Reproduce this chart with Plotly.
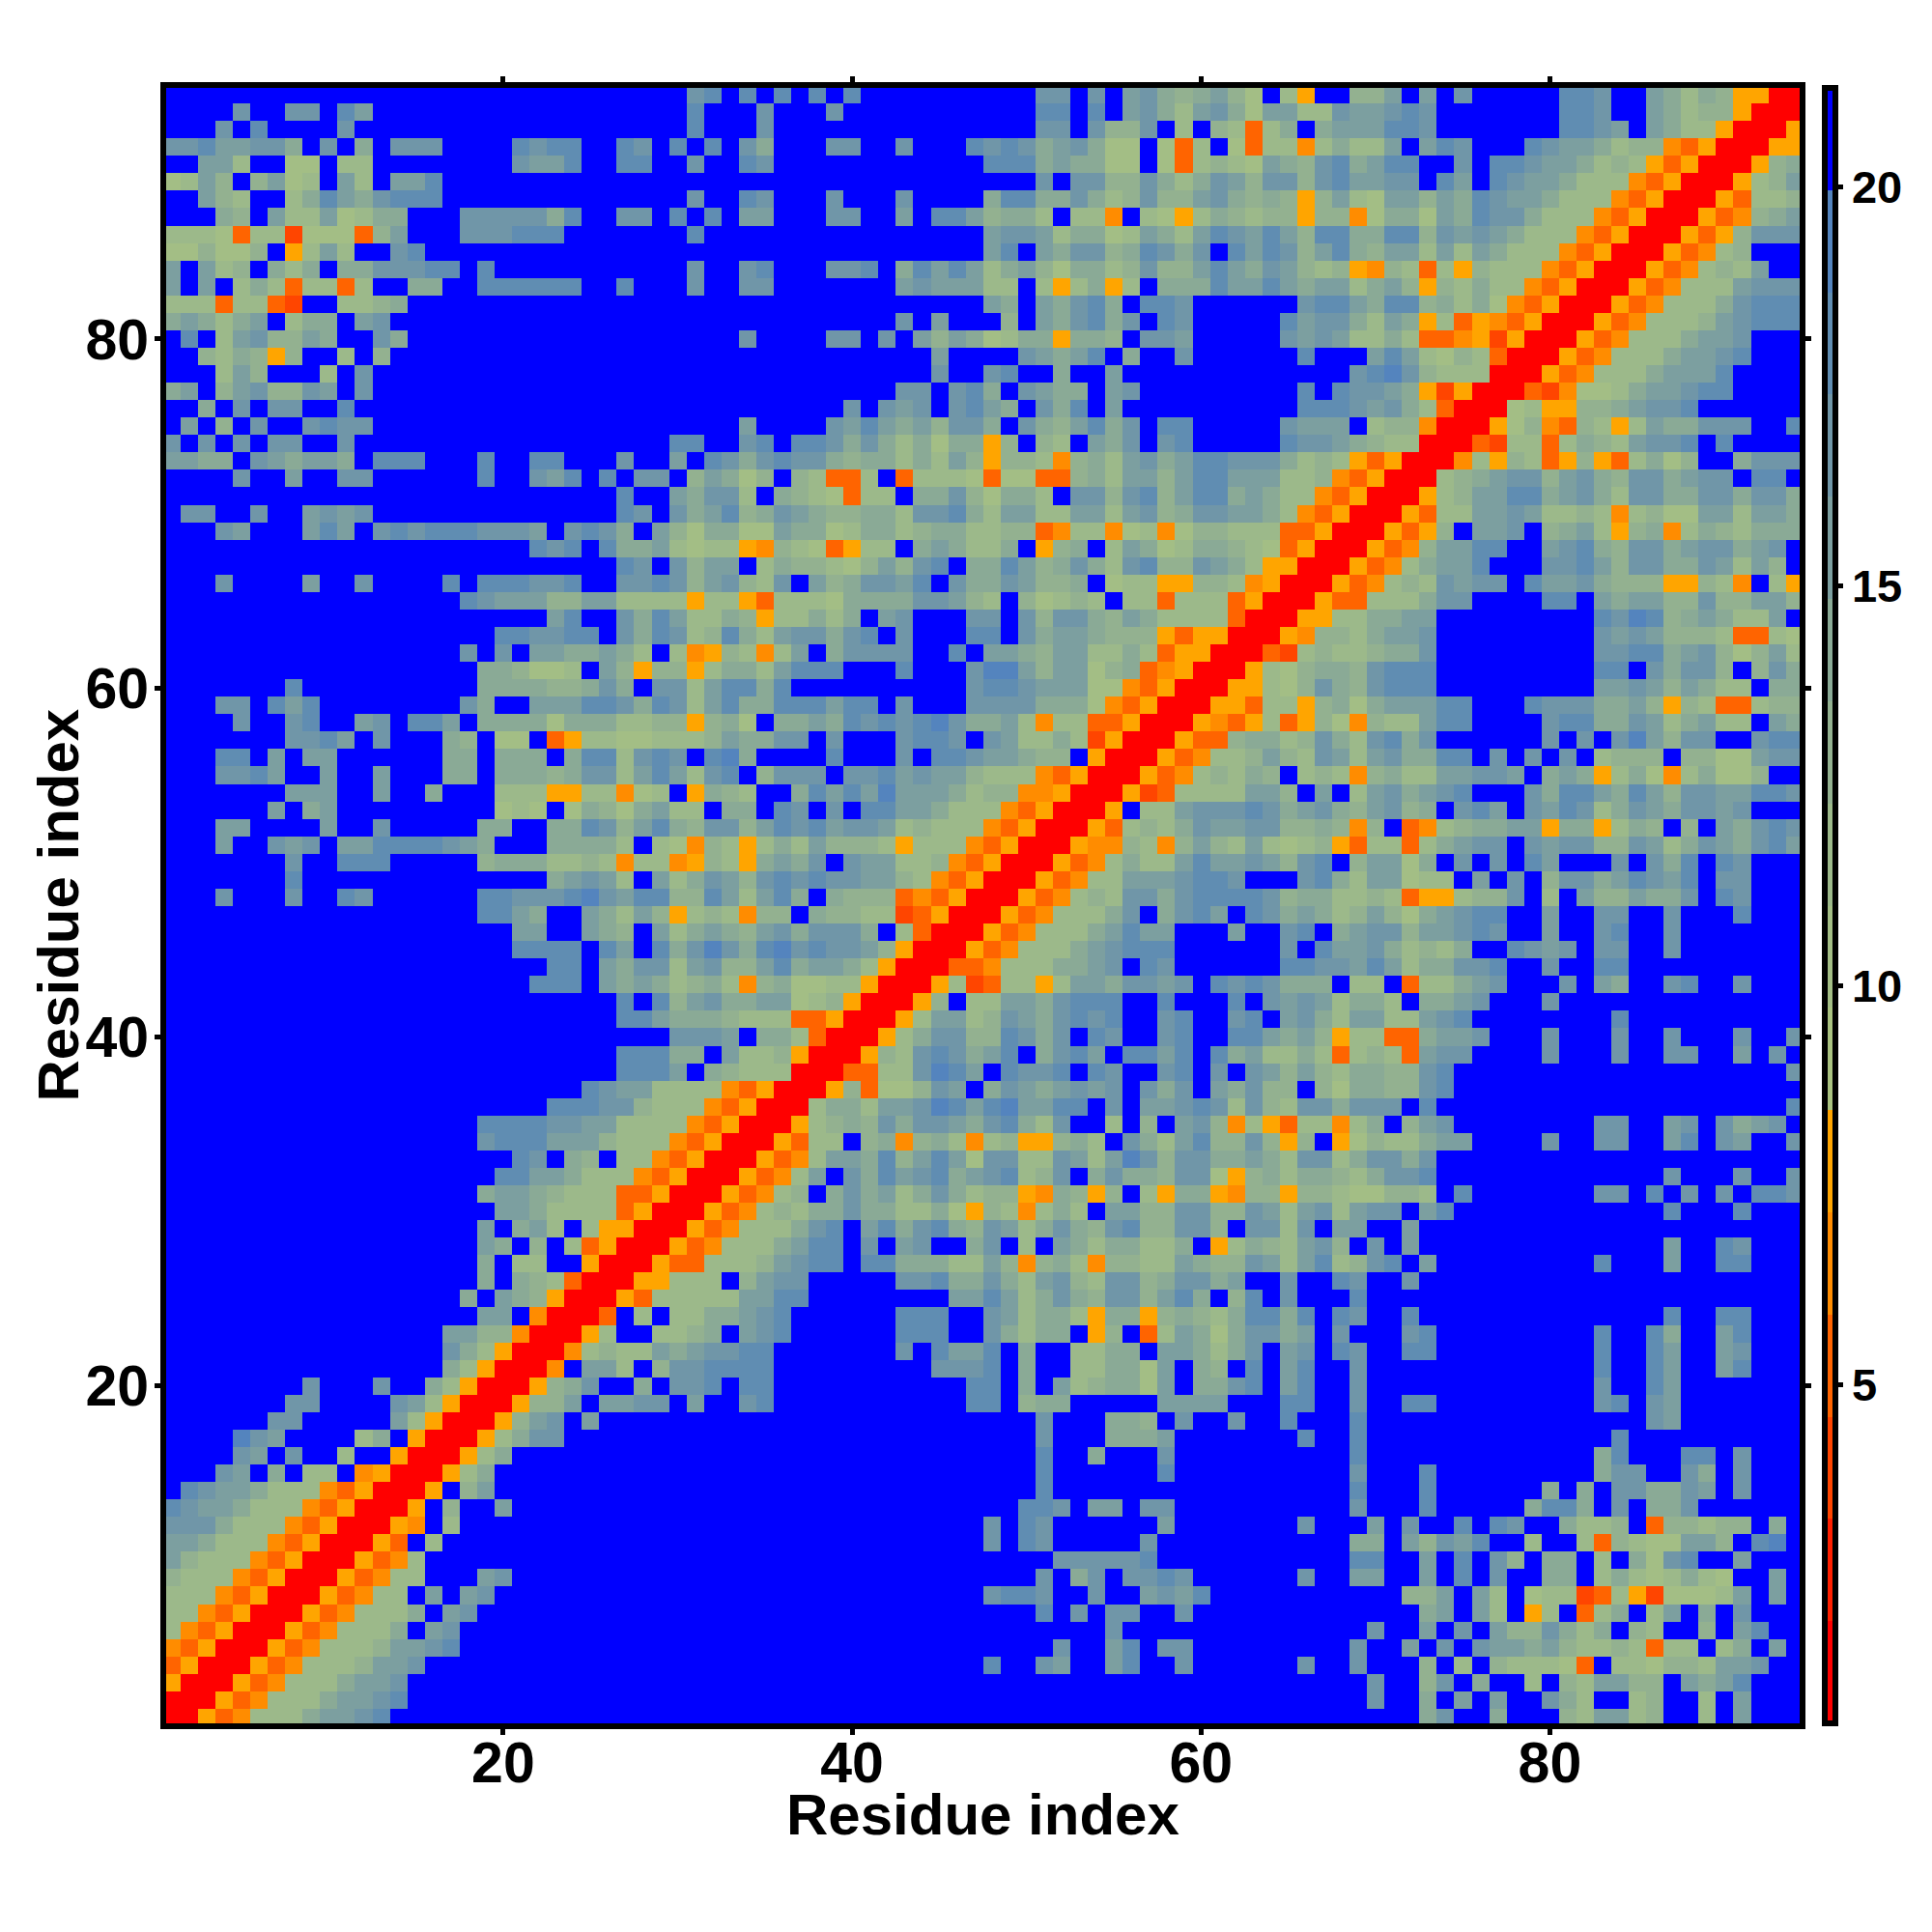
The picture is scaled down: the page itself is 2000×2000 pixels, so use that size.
import re
import plotly.graph_objects as go

# Each row (top = residue 94, bottom = residue 1) is three text chunks: columns 1-32, 33-63, 64-94.
# Letters/digits are colour-band codes; _n_ is a run of n blue cells.
rows = [
("_30_78",".8.8.8.8_10_77.7.67545642",".3y..446.6.7_5_887..65354yyrr"),
("....7..77.86_18_8.","..7...7_11_88.8.67536752","6633766787_7_887..65344yrrr"),
("...7.8....7_19_8.","..7_15_77.7447.3.43o","35.5666887_7_8876.6533yrrry"),
("77866775.7.5.777....8788..87.8.8",".75...77..7...8787567522.2o3.2o","33p35336.687...87665344poyrrryy"),
("..663..22.33_8_7668..88..7.",".87_12_888565522.2o3432","654785688..7.887665343yoyrrry45"),
("2364.4623.63.668_16_","_18_7.77447535764","774786677.86.87665333poyrrry346"),
("..643..358657888_14_7.",".87...7...7....5885575347446754","54y46326646587665333poyrrryo334"),
("...54.63362355...7777758..77.8.8",".66...77..6.8864553.33p.32y3543","44y44p2552658775333poyrrryop456"),
("3332o33u222o46...777888_7_8.","_15_6776355236536876","864885588476765333poyrrryoy4777"),
("224224.y363..78_17_","_15_68.6577458757.86","87468546636365333poyrrryop34..."),
("6.634.535.5577788.8_11_7.",".78...778.586863564255347446865","76434yp43o3y4333poyrrryop3436.."),
("6.6.353o33o3..55..888888..8...7.",".77.......6766633.3y35y3.555866","865663564y43533poyrrryop3336777"),
("333o33ou..3345_18_","_15_65.65785.887....","..788658845352poyrrryop33357888"),
("565356.355.67._18_","_10_7.6...4.657857.87....",".86775365y3oypoyrrryop333467888"),
(".8.3674465..75_18_",".7....77.7.64652355y554.776....",".76763353oopyuyrrryop3335667..."),
("..4354y4..3.4_19_","_12_6....76568.5..7....","..8...6863243orrryop33356678..."),
("...364...3.7_20_","_12_7..78..5..6_8_",".....78974333rrryop33356668...."),
("56.4674476.7_20_","_10_77.785.7655.67.......","..8.87765yuyrrroup223566788...."),
("..5.7.77..8_21_","_7_7.767.7865.758.6_8_","..88876753orrr23yy4456778......"),
(".6.4.7..7877_20_",".6....7686564775.7546857.88....",".7666.344prrry24po43y3655777..8"),
("7.7.7.77..7_18_88.",".78.88757535255y4.43.657.78....",".87765433rrrou33o35436778.8...."),
("6655.765665.888...8..88...7..6.8","757877545535364y443p45367568877","75343yoyrrrp3y43oy4yo3524..5777"),
("....7..6..77......8..768.8.77.46","524.43oo3.o3332o22oo45366468866","6334poyrrr34567746754775677.88."),
("_26_8..657","73.5432o33.55742553.77478468856","533poyrrry346688567537755775775"),
(".77..7..6767_14_87.756","8457654455377853663366367457766","53poyrrryo3366763343p3422663665"),
("...76...686.7878887776.7875.6425","522655235534553344op33p23p24433","3ooyrrryoy4.667.4563y45p3543555"),
("_21_878.8556323","3yp432oy33.565335.y45.365235543","2oyrrryop46688..67854775677567."),
("_26_87.746","6.35443246478.55864575378447653","yyrrryop35668...77864775576364."),
("...7....6..7....8.888778..778746","7437.6457768.75576445.233yy443p","yrrryop3437677.86675444yy43p.3y"),
("_17_8766644663333y3","3yo3332555577643.42343.33o333oy","rrryoo333577....88.656644744664"),
("_22_68..758633","54y33535.67...77.747754653333or","rryy335566_9_87984565336."),
("_19_887788.758734","853677578.7...88.75665444yoyyrr","ryp4435667_9_76764443oo32"),
("_17_7.7.6655653.3py","43p36.57777..8.6654663353oyyrrr","ou34334557_9_778856742463"),
("_18_554223.64y44y3","5536888...8...7996466245opyrrry","3245547888_9_88.75774.475"),
(".......8_10_555544575.7736","8858_10_788766622poyrrryy","3247547888_9_667646533.55"),
("...77.868_8_75..66688758736","855888688.7...77775552poyrrryyo","33y452566688...87775564y43oo344"),
("....7..78..67.886.555525553344y4","52.556587878975563p33ooyrrrypoy","3oy42p433688....788557635633.65"),
(".......7786.7...54.22.oy33223334","65577.7...7887.763353uyrrryoo45","5347537857......7.7.796477..788"),
("...88.6.66......55.555.5883787.8","95....8...7.88766544.yrrryop334","643763675588.7.7.7.3444.4422677"),
("...7786..6..6...55.5554577368637","8.4777.77867664333poyrrryop3435","4.343p453366776.565y352p35224.."),
(".......666..6..5...333yy33p23.y5","43..5868696665344ppyrrryuo33336","64.6.3675678...7588658647766887"),
("......6.56_9_232.25425633.","55.87.7.88665333poyrrry.3367778","7567546745.786.7687357657767..."),
("...66....6..7.....55..5587468547","746878677634333poyrrryo34357667","74454p4.op345566y55y354.4.65787"),
("...6..767.668888765...55553.32p4","3y35364443y333poyrrrypp43p46436","3234yo33o35677.7677447635765786"),
(".......7..888.....45553343p33py4","3y5657.766334poyrrryop353368667","6478.46625.7.7.86...7.758.87..."),
(".......8_14_56763.6357","647878776643poyrrryop336667887.","..785366233.6.7.477568768.77..."),
("...7...7..87......88777897688448","63685.5444opoyrrryop34377578888","74553343oyy3447.3.6446557.87..."),
("_18_8865..65364y34","3p44.54433uoyrrryop33357.5786.8","75653464256788..6..77..7...8..."),
("_20_66..654.6356","546757775.3orrryop33356866...6.",".78.5677466787..6..78..7_7_"),
("_20_8888.86.8579","7589787764yrrryop333567888.....",".7.866753435..8767.77..7_7_"),
("_22_88.6577367","446856653yrrroop3335567.87.....",".8877686355778..7..88_10_"),
("_21_888.6565345","3p452233yrrry3uo33y36657767.878","7555.33.o33567...7.65..78..7..."),
("_26_8.8467","5566234yrrry4.336657888..8...8.","76763553.5567...7_14_"),
("_26_886555","4333ooyrrry366347657878..78..78",".67536633678_8_8_10_"),
("_29_777","6.553orrry3577448757.87..78..88","6564y33oo5667...7...7..7...7..7"),
("_26_88855.","6334yrrry43787568.5786.8868.856","3353o343o677....7...7..77..6.7."),
("_26_8886.5","4333rrroo337986.8778.87..78.7.7","64643554478_19_7"),
("_24_87663333","poyrrry4o22476.57656767.757.657","44.42554478_20_"),
("_22_888774333p","oyrrr3553667986896688.7.6678737","43775777.8_20_8"),
("_18_888877663333po","yrrry345475776578537..3.4.674p3","yo33p35.467_8_77..67.7567."),
("_18_78886664333poy","rrryo33.45p453p34yy453.75368447","4y4.y2433566....7..77..68.76..7"),
("_20_87.54.33poyr","rryop36658468627733763697477556","5377357757_21_"),
("_19_88665333poyrr","ryop36.7586785678347.57554772y4","5355435778_13_7...7..7"),
("_18_56654333ooyrrr","yop34.57563575344yp54y4.3y55yp4","4y44322443.8_7_77.8.7.7.887"),
("_19_6653333oyrrry","op343557553352y43p353.664477447","63673677.68_12_8...8..."),
("_18_6.563.3yyrrryo","p333578.685785476357547844774.7","737.66..6_22_"),
("_18_65.4.3oyrrryop","3335688.7.67..57.3.65355335.y35","43674.7.6_14_6..87..."),
("_18_5.33..yrrryoo3","3346788.885553364p453p443365447","63683478.6_9_8...6..88..."),
("_18_5.543orrryy333",".4677.....77855753674377457756.",".7..87..7_22_"),
("_17_5.654yrrryo3333","36688_8_668635754774685.48",".7...8_25_"),
("_18_66.prrro.3.335","5678_6_888..763553y55y454358","858.87..8_14_8..88..."),
("_16_6644prrry3..3345",".678_6_888..75355.y4.o365257","756.7...78_9_8..85..68..."),
("_16_753yrrrp34336567","788_7_7.8668.5..3355.665357",".67.87..88_9_8..86..67..."),
("_16_53yrrrp.663.4778","888_9_7778.5..335526.54.8",".68..7_13_8..86..68..."),
("........7...7..53yrrry457..5.778",".88_11_88.5.6345526.5578",".68..7_13_7..86_7_"),
(".......77....763yrrry446.6677.6.",".78_11_88.455.....6666..",".88..7..88_9_78.76_7_"),
("......77.....63yrrry467.6_7_","_18_7...554.7..7.",".8...8_16_76_7_"),
("....976....35.yrrry3577_9_","_18_7...5556.....","..8..8_14_8_10_"),
("....76.7..3..yrrry35_12_","_18_8..5...7.....",".....8_13_58...88.7..."),
("...76.5.33.pyrrry35_13_","_18_8......8.....",".....7...8_9_577..75.7..."),
(".87665333poyrrry.46_13_","_18_8_12_",".....8...8_6_5.5.775576.7..."),
("87665333poyrrry.4..6_12_","_17_887.66.77.....",".....7...8_5_5885.7.557_6_"),
("7775333poyrrryp.3_15_","_15_7.87......6.....","..7...6.7..8.87..5334.o44344.5."),
("665333poyrrryo.3_16_","_15_7.87.....7......",".....55.64768..3..3o4322664.89."),
("64333poyrrryop3_17_","_19_777778_6_",".....88..6.8.74.55.3.5278..6..."),
("4333poyrrryop33...67_12_","_18_7.57.7787....","..7..66..6.8.7..55.35323532..6."),
("333poyrrryop33.6.67_13_","_15_7887..7..6768...","_8_446.63.233uo3yu22236.6."),
("33poyrrryop3335.67_14_","_18_8.7.77..7....","_9_56.63.y3.o35.36.5.7..."),
("3poyrrryop3335.67_15_","_22_7_8_","_6_7..6.7.6447535.43..4.68.."),
("poyrrryop33346678_15_","_19_7..68.77....",".....7..6.7.7665643343o33.35.6."),
("oyrrryop3334667_17_","_15_8..76..68..7....","..7..7...4.3.43332o.332443667.."),
("yrrryop3335667_18_","_31_","_6_7..47.5..3.436644.6568..."),
("rrryop33356678_18_","_31_","_6_7..5.6.6..753..34..3.6..."),
("rryop33356678_19_","_31_","_9_57..5...436634..3.6..."),
]

band_edges = [0.76, 2.04, 3.32, 4.60, 5.88, 7.16, 8.44, 9.72, 11.0, 12.28,
              13.56, 14.84, 16.12, 17.40, 18.68, 19.96, 21.24]
band_codes = ["r", "t", "u", "o", "p", "y", "1", "2", "3", "4", "5", "6", "7", "8", "9", "."]
band_colors = ["#FF0000", "#FF2000", "#FF4500", "#FF6400", "#FF8C00", "#FFA500",
               "#A9C280", "#A3BE85", "#9CB98A", "#93B190", "#8AAA96", "#7C9FA0",
               "#7096A8", "#608DB2", "#5484BE", "#0000FF"]
axis_ticks = [20, 40, 60, 80]
bar_ticks = [5, 10, 15, 20]
axis_title = "Residue index"


def expand(chunk, size):
    text = re.sub(r"_(\d+)_", lambda m: "." * int(m.group(1)), chunk)
    return (text + "." * size)[:size]


code_value = {c: (band_edges[i] + band_edges[i + 1]) / 2 for i, c in enumerate(band_codes)}
z = []
for a, b, c in reversed(rows):
    line = expand(a, 32) + expand(b, 31) + expand(c, 31)
    z.append([code_value[ch] for ch in line])

span = band_edges[-1] - band_edges[0]
scale = []
for i, col in enumerate(band_colors):
    scale.append([(band_edges[i] - band_edges[0]) / span, col])
    scale.append([(band_edges[i + 1] - band_edges[0]) / span, col])

idx = list(range(1, 95))
regular = "Liberation Sans, Arial"
title_font = dict(family=regular, size=60, color="black", weight="bold")

fig = go.Figure(go.Heatmap(
    x=idx, y=idx, z=z, zmin=band_edges[0], zmax=band_edges[-1],
    colorscale=scale, xgap=0, ygap=0, hoverinfo="skip",
    colorbar=dict(
        thickness=11, thicknessmode="pixels", len=1.0, lenmode="fraction",
        x=1.0152, xanchor="left", xpad=0, y=0.5, yanchor="middle", ypad=0,
        outlinewidth=6, outlinecolor="black", borderwidth=0,
        tickmode="array", tickvals=bar_ticks, ticks="outside", ticklen=5,
        tickwidth=5, tickcolor="black",
        tickfont=dict(family=regular, size=47, color="black", weight="bold"),
    ),
))
axis_common = dict(
    showgrid=False, zeroline=False, showline=True, linecolor="black", linewidth=6,
    mirror="ticks", ticks="outside", ticklen=6, tickwidth=5, tickcolor="black",
    tickmode="array", tickvals=axis_ticks,
    tickfont=dict(family=regular, size=59, color="black", weight="bold"),
)
fig.update_layout(
    width=2000, height=2000, autosize=False, paper_bgcolor="white", plot_bgcolor="white",
    margin=dict(l=164, r=145, t=83, b=224, pad=0),
    xaxis=dict(range=[0.68, 94.32], ticklabelstandoff=-22, **axis_common),
    yaxis=dict(range=[0.65, 94.39], ticklabelstandoff=-6, **axis_common),
    annotations=[
        dict(text=axis_title, xref="paper", yref="paper", x=0.5, y=-0.0561,
             xanchor="center", yanchor="middle", showarrow=False, font=title_font),
        dict(text=axis_title, xref="paper", yref="paper", x=-0.0662, y=0.5,
             xanchor="center", yanchor="middle", showarrow=False, textangle=-90, font=title_font),
    ],
)
fig.write_html("out.html")
